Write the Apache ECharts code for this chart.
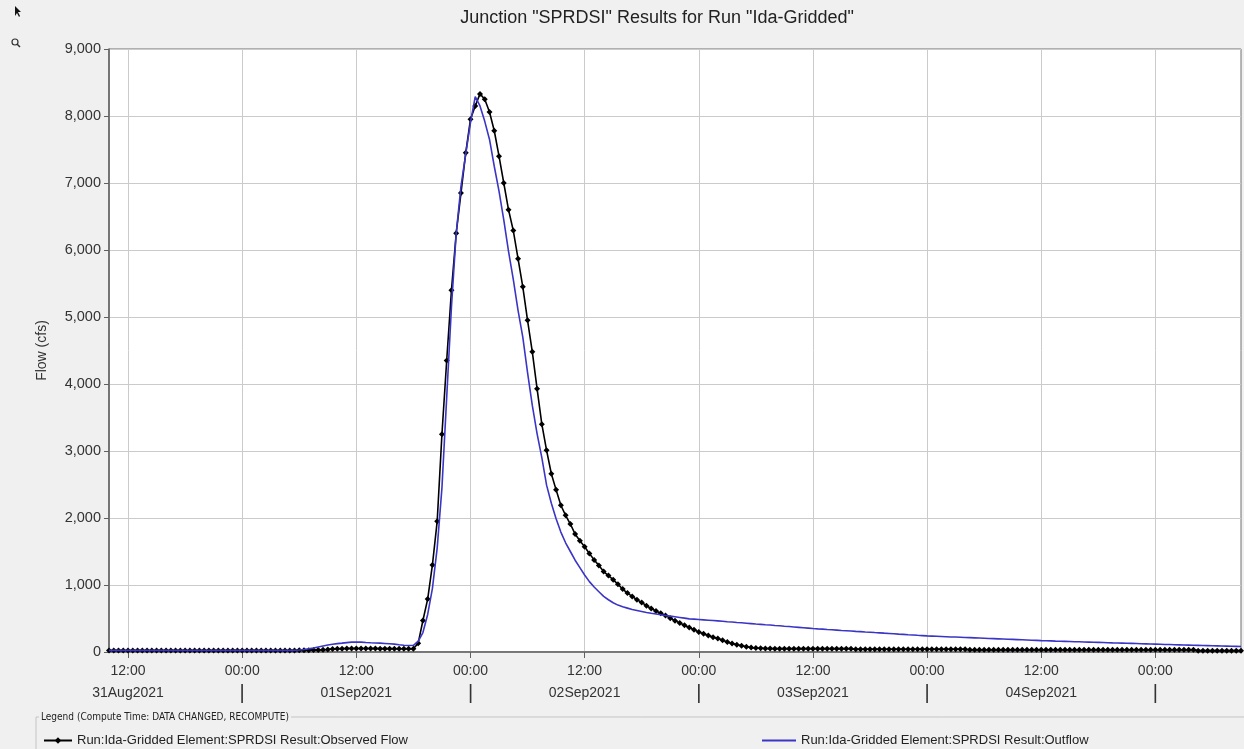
<!DOCTYPE html>
<html>
<head>
<meta charset="utf-8">
<script src="https://cdn.jsdelivr.net/npm/echarts@6/dist/echarts.min.js"></script>
<style>
html,body{margin:0;padding:0;background:#f0f0f0;}
#chart{width:1244px;height:749px;}
</style>
</head>
<body>
<div id="chart"></div>
<script>
// ---------------- data ----------------
const chartTitle = 'Junction "SPRDSI" Results for Run "Ida-Gridded"';
const yAxisName = 'Flow (cfs)';
const legendTitle = 'Legend (Compute Time: DATA CHANGED, RECOMPUTE)';
const seriesNames = [
  'Run:Ida-Gridded Element:SPRDSI Result:Observed Flow',
  'Run:Ida-Gridded Element:SPRDSI Result:Outflow'
];
const monthNames = ['Jan','Feb','Mar','Apr','May','Jun','Jul','Aug','Sep','Oct','Nov','Dec'];
// time range (UTC) and sampling step of the value arrays below
const startTime = Date.UTC(2021, 7, 31, 10, 0);   // 31Aug2021 10:00
const endTime   = Date.UTC(2021, 8, 5, 9, 0);     // 05Sep2021 09:00
const stepMinutes = 30;
// x tick positions (every 12 hours)
const xTickTimes = [
  '2021-08-31T12:00:00Z', '2021-09-01T00:00:00Z', '2021-09-01T12:00:00Z',
  '2021-09-02T00:00:00Z', '2021-09-02T12:00:00Z', '2021-09-03T00:00:00Z',
  '2021-09-03T12:00:00Z', '2021-09-04T00:00:00Z', '2021-09-04T12:00:00Z',
  '2021-09-05T00:00:00Z'
];
const yTickValues = [0, 1000, 2000, 3000, 4000, 5000, 6000, 7000, 8000, 9000];

// Observed Flow (cfs), every 30 min from 31Aug2021 10:00
const observedFlow = [
  22,22,22,22,22,22,22,22,22,22, 22,22,22,22,22,22,22,22,22,22,
  22,22,22,22,22,22,22,22,22,22, 22,22,22,22,22,22,22,22,22,22,
  25,25,26,28,30,33,38,45,48,50, 52,52,53,53,52,52,51,50,50,50, 49,48,48,47,
  50,130,470,790,1300,1950,3250,4350,5400,6250,
  6850,7450,7950,8150,8330,8250,8060,7780,7400,7000,
  6600,6290,5870,5450,4950,4480,3930,3400,3010,2660,
  2420,2190,2040,1910,1760,1660,1570,1470,1375,1290,
  1200,1140,1080,1010,940,880,830,780,740,690,
  650,612,578,543,505,468,432,400,365,333,
  300,
  272,245,222,200,175,150,128,108,92,78,66,58,55,52,51,
  50,50,50,50,50,50,50,50,50,50,50,50,50,50,50,50,50,
  42,42,42,42,42,42,42,42,42,42,42,42,42,42,42,42,42,42,42,42,42,42,42,42,
  32,32,32,32,32,32,32,32,32,32,32,32,32,32,32,32,32,32,32,32,32,32,32,32,
  32,32,32,32,32,32,32,32,32,32,32,32,32,32,32,32,32,32,32,32,32,32,32,32,
  20,20,20,20,20,20,20,20,20,20
];

// Outflow (cfs), every 30 min from 31Aug2021 10:00
const outflow = [
  25,25,25,25,25,25,25,25,25,25, 25,25,25,25,25,25,25,25,25,25,
  25,25,25,25,25,25,25,25,25,25, 25,25,25,25,25,25,25,25,25,25,
  30,38,48,60,75,90,105,115,125,132, 140,148,150,148,142,138,135,132,128,124, 118,108,100,96,
  100,160,290,560,950,1550,2450,3800,5150,6250,
  6950,7430,7900,8290,8150,7920,7650,7250,6880,6450,
  5980,5560,5100,4700,4170,3680,3260,2900,2490,2220,
  1990,1790,1630,1500,1370,1260,1150,1050,970,900,
  830,780,735,700,675,655,635,620,605,590,
  578,567,555,545,535,525,515,505,495,490,
  485,
  480,475,470,464,458,452,447,441,436,430,424,418,413,407,402,396,391,385,380,374,368,362,356,350,
  345,341,336,332,327,322,318,313,308,304,299,295,290,286,281,277,272,267,263,258,254,249,245,240,
  237,234,231,228,225,223,220,217,214,211,208,205,202,199,196,193,190,188,185,182,179,176,173,170,
  168,166,163,161,159,157,154,152,150,148,145,143,141,139,136,134,132,130,128,126,123,121,119,117,
  115,113,111,109,107,105,103,101,99,97,95,93,91,89,87,85,84,82
];

// ---------------- chart ----------------
const stepMs = stepMinutes * 60 * 1000;
const toPairs = arr => arr.map((v, i) => [startTime + i * stepMs, v]);
const xTicks = xTickTimes.map(s => Date.parse(s));
const FONT = '"Liberation Sans", Arial, sans-serif';

function xLabel(value) {
  const d = new Date(value);
  const h = d.getUTCHours();
  if (h === 12) {
    const dd = String(d.getUTCDate()).padStart(2, '0');
    return '12:00\n' + dd + monthNames[d.getUTCMonth()] + d.getUTCFullYear();
  }
  if (h === 0) return '00:00\n{bar||}';
  return '';
}

const chart = echarts.init(document.getElementById('chart'), null, {renderer: 'canvas'});
chart.setOption({
  animation: false,
  backgroundColor: '#f0f0f0',
  textStyle: {fontFamily: FONT},
  title: {
    text: chartTitle,
    left: 652,
    top: 4,
    textAlign: 'center',
    textStyle: {fontFamily: FONT, fontSize: 18, fontWeight: 'normal', color: '#222'}
  },
  grid: {
    left: 109, right: 3, top: 49, bottom: 97,
    show: true, backgroundColor: '#ffffff', borderColor: '#707070', borderWidth: 1
  },
  xAxis: {
    type: 'value',
    min: startTime,
    max: endTime,
    axisLine: {lineStyle: {color: '#606060', width: 1.5}},
    axisTick: {show: true, length: 6, customValues: xTicks, lineStyle: {color: '#606060'}},
    splitLine: {show: true, lineStyle: {color: '#cbcbcb', width: 1}},
    axisLabel: {
      customValues: xTicks,
      formatter: xLabel,
      color: '#333', fontSize: 14, fontFamily: FONT,
      lineHeight: 22, margin: 8,
      rich: {bar: {fontSize: 20, lineHeight: 22, color: '#333'}}
    }
  },
  yAxis: {
    type: 'value',
    min: yTickValues[0],
    max: yTickValues[yTickValues.length - 1],
    interval: yTickValues[1] - yTickValues[0],
    name: yAxisName,
    nameLocation: 'middle',
    nameGap: 60,
    nameTextStyle: {fontSize: 14, color: '#333', fontFamily: FONT},
    axisLine: {show: true, lineStyle: {color: '#606060', width: 1.5}},
    axisTick: {show: true, length: 5, lineStyle: {color: '#606060'}},
    splitLine: {show: true, lineStyle: {color: '#cbcbcb', width: 1}},
    axisLabel: {
      color: '#333', fontSize: 14.5, fontFamily: FONT, margin: 8,
      formatter: v => v.toLocaleString('en-US')
    }
  },
  legend: [
    {
      data: [seriesNames[0]], left: 38, top: 729, itemWidth: 28, itemHeight: 8, itemGap: 8,
      textStyle: {fontSize: 13, color: '#222', fontFamily: FONT}
    },
    {
      data: [{name: seriesNames[1], icon: 'rect', itemStyle: {color: '#3b35c6'}}],
      left: 757, top: 729, itemWidth: 34, itemHeight: 2, itemGap: 8,
      textStyle: {fontSize: 13, color: '#222', fontFamily: FONT, padding: [0, 0, 0, 0]}
    }
  ],
  graphic: [
    // legend group box
    {type: 'rect', silent: true, z: 0, shape: {x: 36, y: 717, width: 1220, height: 50},
     style: {fill: 'none', stroke: '#c4c4c4', lineWidth: 1}},
    {type: 'text', silent: true, z: 1, left: 39, top: 711,
     style: {text: legendTitle, fill: '#222', font: '10px "DejaVu Sans Condensed", "DejaVu Sans", sans-serif',
             backgroundColor: '#f0f0f0', padding: [1, 2, 1, 2]}},
    // toolbar: arrow icon
    {type: 'polygon', silent: true, shape: {points: [[15, 6], [15, 16], [17, 13], [19, 17], [20, 16], [18, 12], [21, 12]]},
     style: {fill: '#111'}},
    // toolbar: magnifier icon
    {type: 'circle', silent: true, shape: {cx: 15, cy: 42, r: 3}, style: {fill: 'none', stroke: '#333', lineWidth: 1.2}},
    {type: 'line', silent: true, shape: {x1: 17, y1: 44, x2: 20, y2: 47}, style: {stroke: '#333', lineWidth: 1.5}}
  ],
  series: [
    {
      name: seriesNames[0],
      type: 'line',
      data: toPairs(observedFlow),
      symbol: 'diamond',
      symbolSize: 6,
      showSymbol: true,
      color: '#000000',
      itemStyle: {color: '#000000'},
      lineStyle: {color: '#000000', width: 1.6},
      z: 2
    },
    {
      name: seriesNames[1],
      type: 'line',
      data: toPairs(outflow),
      symbol: 'none',
      color: '#3b35c6',
      lineStyle: {color: '#3b35c6', width: 1.6},
      z: 3
    }
  ]
});
</script>
</body>
</html>
